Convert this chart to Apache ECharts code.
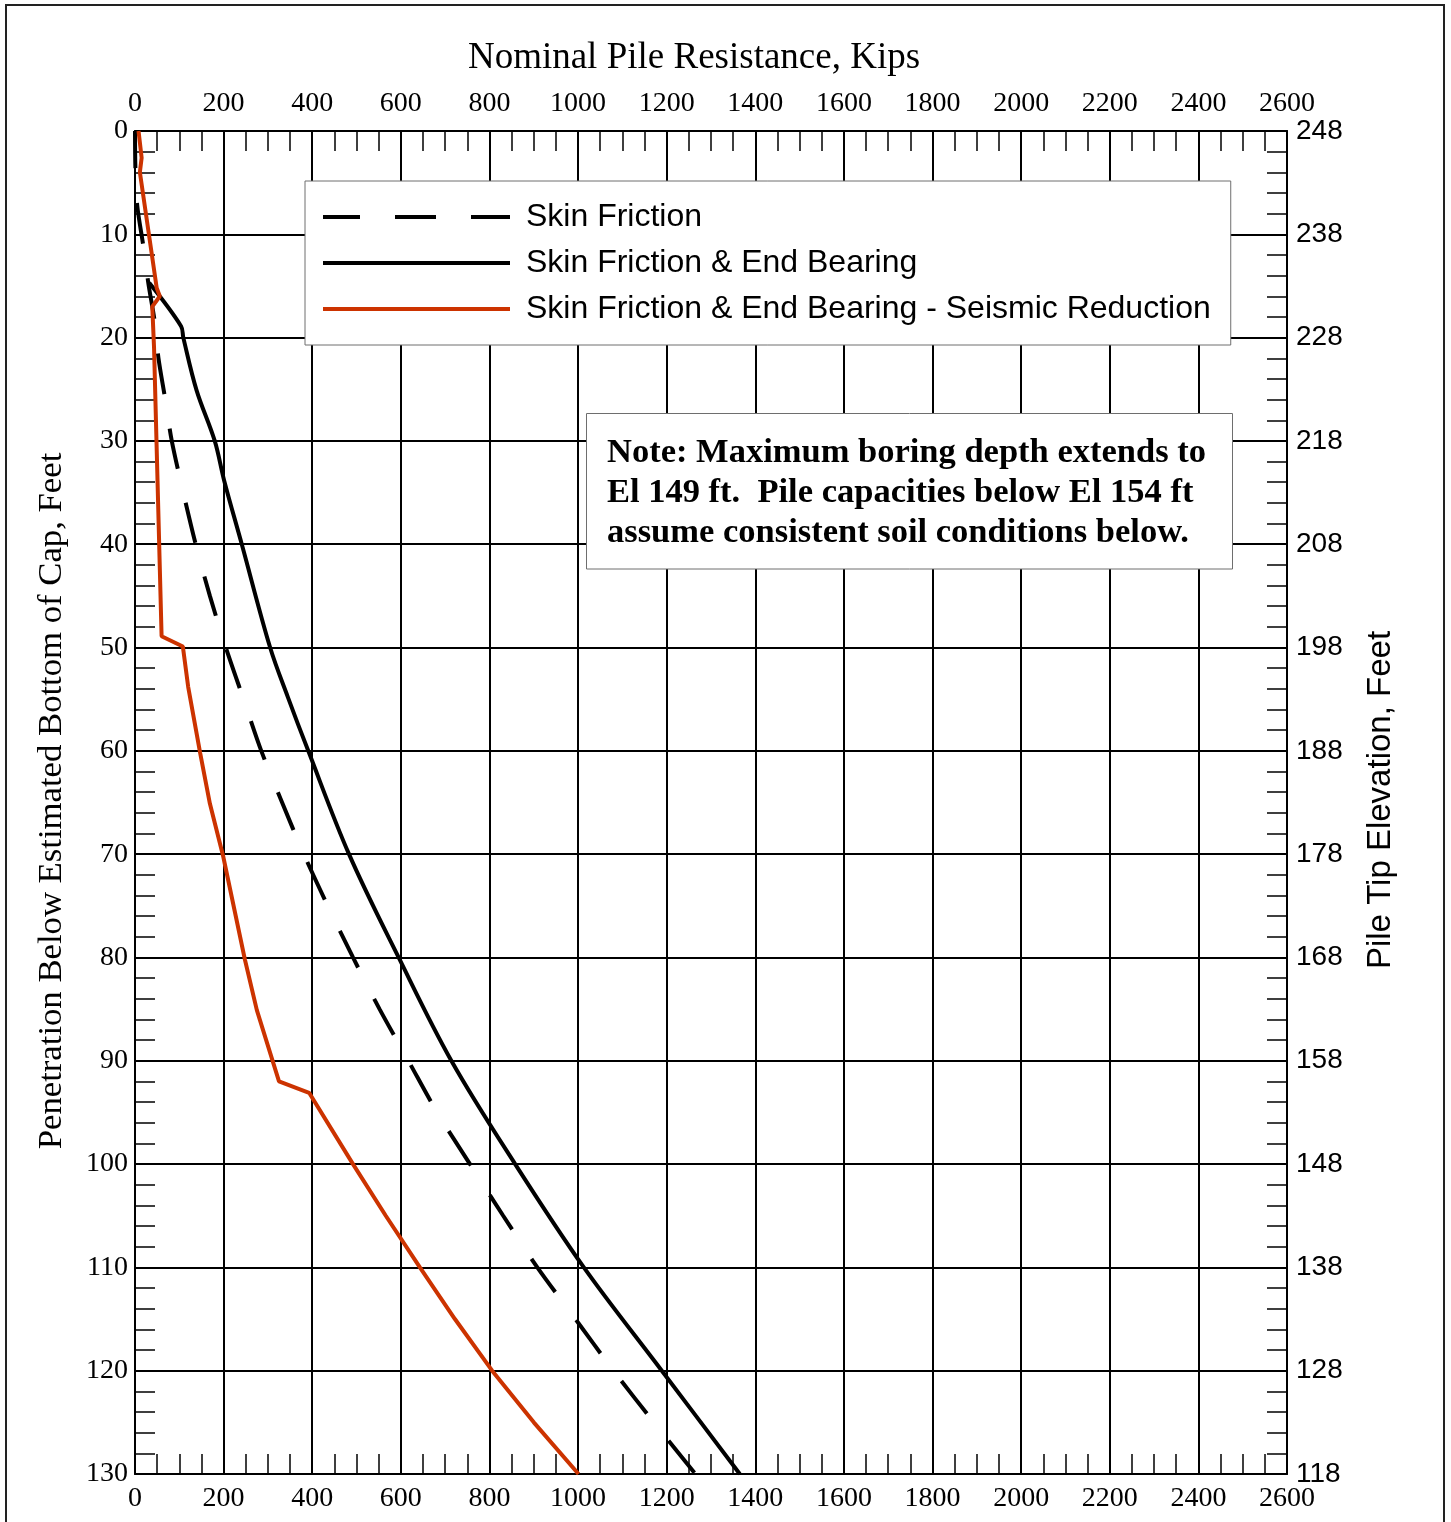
<!DOCTYPE html>
<html>
<head>
<meta charset="utf-8">
<script src="https://cdn.jsdelivr.net/npm/echarts@6/dist/echarts.min.js"></script>
<style>
  html, body { margin: 0; padding: 0; background: #fff; }
  #chart { width: 1451px; height: 1522px; }
</style>
</head>
<body>
<div id="chart"></div>
<script>
// Depth below bottom of cap (ft) and nominal resistance (kips) for each curve
const skinFrictionDepth = [0, 3.8, 7.2, 11.2, 14.7, 18.6, 22, 25.9, 30, 35, 40, 45, 50, 55, 60, 65, 70, 75, 80, 85, 90, 95, 100, 105, 110, 115, 120, 125, 130];
const skinFrictionKips  = [0, 1, 5, 19, 30, 45, 53, 68, 83, 109, 137, 169, 205, 245, 285, 332, 381, 435, 492, 552, 617, 682, 756, 831, 908, 994, 1080, 1171, 1265];

const totalDepth = [14.7, 18.9, 20, 25.1, 30, 33.8, 40, 50, 54.8, 60, 70, 80, 90, 100, 110, 120, 130];
const totalKips  = [32, 104, 109, 139, 180, 201, 241, 305, 345, 391, 483, 595, 714, 858, 1013, 1189, 1365];

const seismicDepth = [0, 2.6, 4, 15.2, 16, 17, 21, 48.9, 49.9, 53.8, 60.2, 65.1, 70.2, 80.2, 85.1, 92, 93.1, 100, 105, 110, 115, 120, 125, 130];
const seismicKips  = [8, 15, 11, 49, 56, 39, 43, 60, 108, 120, 147, 169, 199, 248, 275, 325, 393, 492, 566, 643, 722, 806, 900, 1001];

const seriesNames = [
  'Skin Friction',
  'Skin Friction & End Bearing',
  'Skin Friction & End Bearing - Seismic Reduction'
];

// Axis ranges and the elevation of the bottom of the cap
const kipsMax = 2600, kipsStep = 200;
const depthMax = 130, depthStep = 10;
const capElevation = 248;

const noteLines = [
  'Note: Maximum boring depth extends to',
  'El 149 ft.  Pile capacities below El 154 ft',
  'assume consistent soil conditions below.'
];

const zip = (xs, ys) => xs.map((x, i) => [x, ys[i]]);

const SERIF = '"Liberation Serif", "Times New Roman", serif';
const SANS = '"Liberation Sans", Arial, sans-serif';

function xAxisCfg(position, showGrid) {
  return {
    type: 'value', position: position, min: 0, max: kipsMax, interval: kipsStep,
    axisLine: { show: true, onZero: false, lineStyle: { color: '#000', width: 2 } },
    axisTick: { show: true, inside: true, length: 2, lineStyle: { color: '#000', width: 1.5 } },
    minorTick: { show: true, splitNumber: 4, length: 20, lineStyle: { color: '#000', width: 1.5 } },
    axisLabel: {
      show: true, color: '#000', fontFamily: SERIF, fontSize: 28,
      margin: position === 'top' ? 13 : 11,
      formatter: v => String(v)
    },
    splitLine: { show: showGrid, lineStyle: { color: '#000', width: 2 } },
    minorSplitLine: { show: false }
  };
}

function yAxisCfg(position, showGrid, formatter, family, margin) {
  return {
    type: 'value', position: position, inverse: true, min: 0, max: depthMax, interval: depthStep,
    axisLine: { show: true, onZero: false, lineStyle: { color: '#000', width: 2 } },
    axisTick: { show: true, inside: true, length: 2, lineStyle: { color: '#000', width: 1.5 } },
    minorTick: { show: true, splitNumber: 5, length: 20, lineStyle: { color: '#000', width: 1.5 } },
    axisLabel: { show: true, color: '#000', fontFamily: family, fontSize: 28, margin: margin, formatter: formatter },
    splitLine: { show: showGrid, lineStyle: { color: '#000', width: 2 } },
    minorSplitLine: { show: false }
  };
}

const chart = echarts.init(document.getElementById('chart'), null, { renderer: 'canvas' });

chart.setOption({
  backgroundColor: '#fff',
  animation: false,
  grid: { left: 135, right: 164, top: 131, bottom: 48, containLabel: false },
  xAxis: [ xAxisCfg('bottom', true), xAxisCfg('top', false) ],
  yAxis: [
    yAxisCfg('left', true, v => String(v), SERIF, 7),
    yAxisCfg('right', false, v => String(capElevation - v), SANS, 9)
  ],
  legend: {
    show: true,
    orient: 'vertical',
    left: 305, top: 181,
    padding: [18, 20, 18, 16],
    itemGap: 10,
    itemWidth: 187, itemHeight: 14,
    backgroundColor: '#fff',
    borderColor: '#6e6e6e', borderWidth: 1,
    lineStyle: { width: 4 },
    itemStyle: { color: 'rgba(0,0,0,0)', borderColor: 'rgba(0,0,0,0)', borderWidth: 0 },
    textStyle: { fontFamily: SANS, fontSize: 32, color: '#000', lineHeight: 36, padding: [0, 0, 0, 11] },
    data: seriesNames
  },
  graphic: [
    {
      type: 'polyline', z: 20, silent: true,
      shape: { points: [[6, 1560], [6, 5], [1444, 5], [1444, 1560]] },
      style: { stroke: '#222', lineWidth: 2, fill: null }
    },
    {
      type: 'text', z: 20, x: 694, y: 58, silent: true,
      style: { text: 'Nominal Pile Resistance, Kips', fontFamily: SERIF, fontSize: 37, fill: '#000', align: 'center', verticalAlign: 'middle' }
    },
    {
      type: 'text', z: 20, x: 52, y: 801, rotation: Math.PI / 2, silent: true,
      style: { text: 'Penetration Below Estimated Bottom of Cap, Feet', fontFamily: SERIF, fontSize: 34.7, fill: '#000', align: 'center', verticalAlign: 'middle' }
    },
    {
      type: 'text', z: 20, x: 1381, y: 800, rotation: Math.PI / 2, silent: true,
      style: { text: 'Pile Tip Elevation, Feet', fontFamily: SANS, fontSize: 33, fill: '#000', align: 'center', verticalAlign: 'middle' }
    },
    {
      type: 'group', z: 20, silent: true,
      children: [
        {
          type: 'rect', z: 20,
          shape: { x: 586.5, y: 413.5, width: 646, height: 155.5 },
          style: { fill: '#fff', stroke: '#6e6e6e', lineWidth: 1 }
        },
        {
          type: 'text', z: 21, x: 607, y: 433,
          style: { text: noteLines.join('\n'), fontFamily: SERIF, fontWeight: 'bold', fontSize: 34.5, lineHeight: 40, fill: '#000', align: 'left', verticalAlign: 'top' }
        }
      ]
    }
  ],
  series: [
    {
      name: seriesNames[0], type: 'line', xAxisIndex: 0, yAxisIndex: 0,
      data: zip(skinFrictionKips, skinFrictionDepth),
      symbol: 'none', showSymbol: false, smooth: 0.3, z: 3,
      lineStyle: { color: '#000', width: 4, type: [41, 35], dashOffset: 4, cap: 'butt' },
      itemStyle: { color: '#000' }
    },
    {
      name: seriesNames[1], type: 'line', xAxisIndex: 0, yAxisIndex: 0,
      data: zip(totalKips, totalDepth),
      symbol: 'none', showSymbol: false, smooth: 0.35, z: 3,
      lineStyle: { color: '#000', width: 4, type: 'solid' },
      itemStyle: { color: '#000' }
    },
    {
      name: seriesNames[2], type: 'line', xAxisIndex: 0, yAxisIndex: 0,
      data: zip(seismicKips, seismicDepth),
      symbol: 'none', showSymbol: false, smooth: false, z: 4,
      lineStyle: { color: '#cc3300', width: 4, type: 'solid' },
      itemStyle: { color: '#cc3300' }
    }
  ]
});
</script>
</body>
</html>
